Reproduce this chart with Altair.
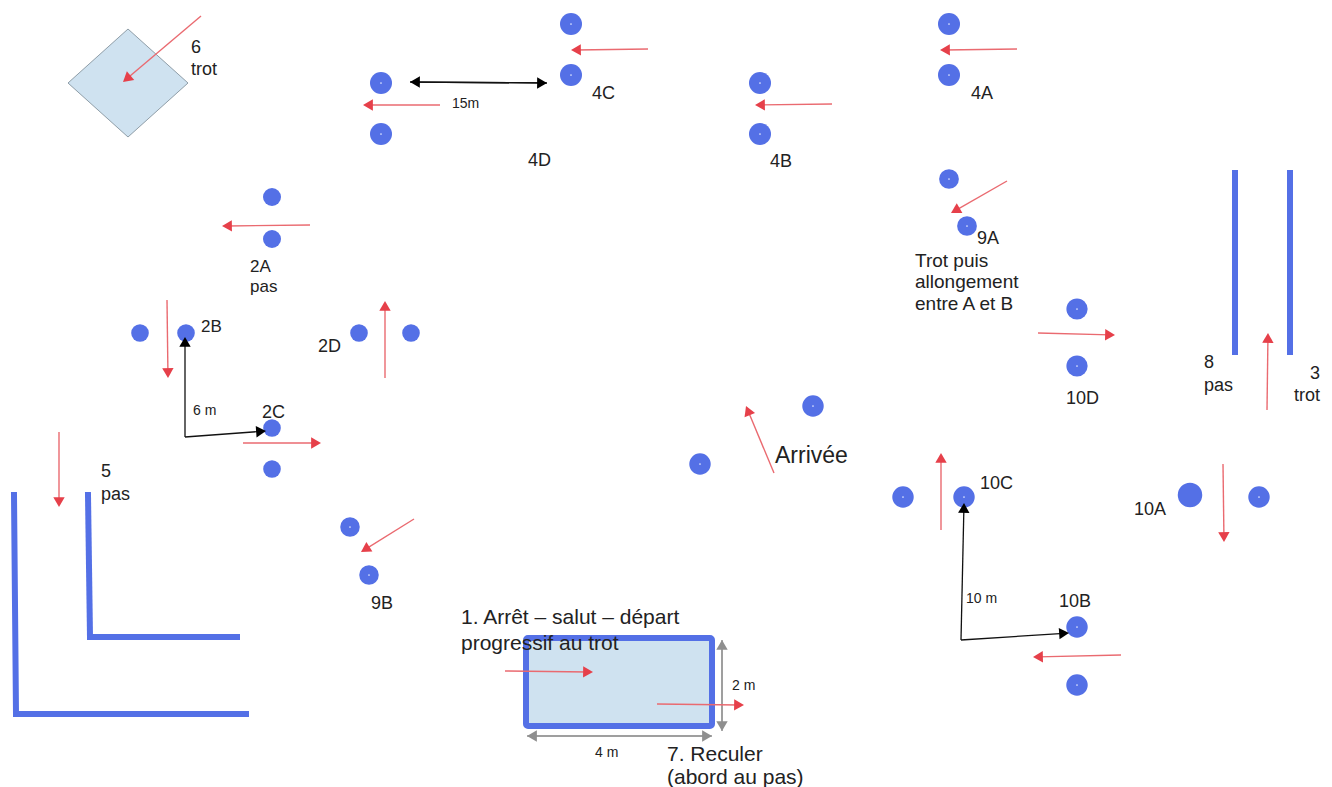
import math
import altair as alt
import pandas as pd

# Cones
dot_x = [381, 381, 571, 571, 760, 760, 949, 949, 272, 272, 140, 186, 359, 411, 272, 272, 350, 369, 949, 967, 1077, 1077, 813, 700, 903, 964, 1190, 1259, 1077, 1077]
dot_y = [83, 134, 24, 75, 83, 134, 24, 75, 197, 239, 333, 333, 333, 333, 428, 469, 527, 575, 179, 226, 309, 366, 406, 464, 497, 497, 495, 497, 627, 685]
dot_size = [484, 484, 484, 484, 484, 484, 484, 484, 324, 324, 310, 310, 310, 310, 310, 310, 380, 380, 390, 390, 450, 450, 460, 460, 460, 460, 600, 460, 460, 460]
dot_center = [1, 1, 1, 1, 1, 1, 1, 1, 0, 0, 0, 0, 0, 0, 0, 0, 1, 1, 1, 1, 1, 1, 1, 1, 1, 1, 0, 1, 1, 1]

# Red arrows
red_x1 = [201, 440, 648, 832, 1017, 310, 167, 385, 243, 59, 414, 1007, 1038, 1267, 774, 941, 1223, 1121, 505, 657]
red_y1 = [16, 105, 49, 104, 49, 225, 300, 378, 443, 432, 519, 181, 333, 410, 473, 530, 464, 655, 671, 704]
red_x2 = [123, 363, 571, 755, 940, 222, 168, 385, 321, 59, 361, 951, 1115, 1268, 746, 941, 1224, 1033, 593, 744]
red_y2 = [82, 105, 50, 105, 50, 226, 378, 301, 443, 507, 552, 213, 335, 333, 406, 453, 542, 657, 672, 705]

# Black measure arrows
black_x1 = [547, 410, 185, 185, 961, 961]
black_y1 = [83, 82, 437, 437, 640, 640]
black_x2 = [410, 547, 185, 266, 964, 1069]
black_y2 = [82, 83, 337, 431, 503, 633]

# Grey measure arrows
grey_x1 = [712, 527, 722, 722]
grey_y1 = [736, 736, 731, 640]
grey_x2 = [527, 712, 722, 722]
grey_y2 = [736, 736, 640, 731]

# Blue barriers
bar_x1 = [88, 90, 14, 16, 1235, 1290]
bar_y1 = [495, 637, 495, 714, 173, 173]
bar_x2 = [90, 237, 16, 246, 1235, 1290]
bar_y2 = [637, 637, 714, 714, 352, 352]

# Diamond
dia_x = [68, 128, 188]
dia_y = [83, 29, 83]
dia_y2 = [83, 137, 83]

# Box
box_x, box_x2, box_y, box_y2 = [526], [712], [638], [726]

# Labels
txt = ["6", "trot", "15m", "4C", "4D", "4B", "4A", "2A", "pas", "2B", "2D", "6 m", "2C", "5", "pas",
       "9B", "9A", "Trot puis", "allongement", "entre A et B", "10D", "8", "pas", "3", "trot",
       "Arrivée", "10C", "10A", "10 m", "10B", "1. Arrêt – salut – départ", "progressif au trot",
       "2 m", "4 m", "7. Reculer", "(abord au pas)"]
txt_x = [191, 191, 452, 592, 528, 770, 971, 250, 250, 201, 318, 193, 262, 101, 101,
         371, 977, 915, 915, 915, 1066, 1204, 1204, 1310, 1294,
         775, 980, 1134, 966, 1059, 461, 461,
         732, 595, 667, 667]
txt_y = [48, 70, 104, 94, 161, 162, 94, 267, 287, 327, 347, 411, 413, 472, 495,
         604, 239, 261, 282, 304, 399, 363, 386, 374, 396,
         456, 484, 510, 599, 602, 618, 644,
         686, 753, 755, 778]
txt_size = [18, 18, 14, 18, 18, 18, 18, 17, 17, 17, 18, 14, 18, 18, 18,
            18, 18, 19, 19, 19, 18, 18, 18, 18, 18,
            23, 18, 18, 14, 18, 21, 21,
            14, 14, 21, 21]

X = alt.Scale(domain=[8, 1324])
Y = alt.Scale(domain=[787, 8])


def xe(f="x"):
    return alt.X(f"{f}:Q", scale=X, axis=None)


def ye(f="y"):
    return alt.Y(f"{f}:Q", scale=Y, axis=None)


def arrows(x1, y1, x2, y2, head, line_color, head_color, stroke):
    """Shaft and head from (x1, y1) to the tip (x2, y2)."""
    h = math.sqrt(head) / 2 * math.sqrt(3) / 2
    rows = []
    for a, b, c, d in zip(x1, y1, x2, y2):
        L = math.hypot(c - a, d - b) or 1
        ux, uy = (c - a) / L, (d - b) / L
        rows.append({
            "x": a, "y": b,
            "x2": c - ux * h, "y2": d - uy * h,
            "angle": (math.degrees(math.atan2(ux, -uy)) + 360) % 360,
        })
    df = pd.DataFrame(rows)
    shaft = alt.Chart(df).mark_rule(color=line_color, strokeWidth=stroke).encode(
        x=xe(), y=ye(), x2="x2:Q", y2="y2:Q")
    tip = alt.Chart(df).mark_point(shape="triangle-up", filled=True, opacity=1,
                                   color=head_color, size=head).encode(
        x=xe("x2"), y=ye("y2"), angle=alt.Angle("angle:Q", scale=None))
    return shaft + tip


BLUE = "#5470e6"
LIGHT = "#cfe2f0"

diamond = alt.Chart(pd.DataFrame({"x": dia_x, "y": dia_y, "y2": dia_y2})).mark_area(
    color=LIGHT, stroke="#8f9ea8", strokeWidth=1, opacity=1).encode(
    x=xe(), y=ye(), y2="y2:Q")

box = alt.Chart(pd.DataFrame({"x": box_x, "x2": box_x2, "y": box_y, "y2": box_y2})).mark_rect(
    fill=LIGHT, stroke=BLUE, strokeWidth=6, cornerRadius=2).encode(
    x=xe(), x2="x2:Q", y=ye(), y2="y2:Q")

bars = alt.Chart(pd.DataFrame({"x": bar_x1, "y": bar_y1, "x2": bar_x2, "y2": bar_y2})).mark_rule(
    color=BLUE, strokeWidth=6, strokeCap="square").encode(x=xe(), y=ye(), x2="x2:Q", y2="y2:Q")

dots_df = pd.DataFrame({"x": dot_x, "y": dot_y, "s": dot_size, "c": dot_center})
dots = alt.Chart(dots_df).mark_circle(color=BLUE, opacity=1).encode(
    x=xe(), y=ye(), size=alt.Size("s:Q", scale=None, legend=None))
centers = alt.Chart(dots_df[dots_df.c == 1]).mark_circle(color="#dfe6ff", opacity=1, size=3).encode(
    x=xe(), y=ye())

labels = alt.Chart(pd.DataFrame({"t": txt, "x": txt_x, "y": txt_y, "s": txt_size})).mark_text(
    align="left", baseline="middle", font="Liberation Sans", color="#222222").encode(
    x=xe(), y=ye(), text="t:N", size=alt.Size("s:Q", scale=None, legend=None))

chart = alt.layer(
    diamond, box, bars, dots, centers,
    arrows(grey_x1, grey_y1, grey_x2, grey_y2, 130, "#999999", "#8f8f8f", 1.5),
    arrows(black_x1, black_y1, black_x2, black_y2, 130, "#111111", "#000000", 1.3),
    arrows(red_x1, red_y1, red_x2, red_y2, 130, "#ea6a70", "#e6404a", 1.4),
    labels,
).resolve_scale(size="independent").properties(
    width=1316, height=779, padding=0,
    autosize=alt.AutoSizeParams(type="none"),
    background="white",
).configure_view(stroke=None)

chart.save("out.html", embed_options={"renderer": "svg", "actions": False})
